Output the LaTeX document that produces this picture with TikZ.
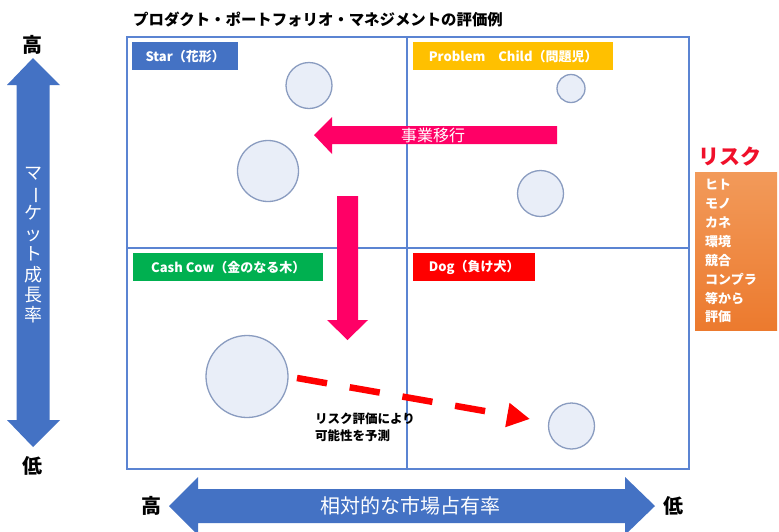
\documentclass[tikz,border=0pt]{standalone}
\usepackage{fontspec}
\setmainfont{Noto Sans CJK JP}
\usetikzlibrary{arrows.meta}
\definecolor{frameblue}{HTML}{5B84D2}
\definecolor{arrowblue}{HTML}{4472C4}
\definecolor{starblue}{HTML}{4472C4}
\definecolor{pcyellow}{HTML}{FFC000}
\definecolor{ccgreen}{HTML}{00B050}
\definecolor{dogred}{HTML}{FF0000}
\definecolor{pink}{HTML}{FF0066}
\definecolor{bubblefill}{HTML}{E9EEF8}
\definecolor{bubbleline}{HTML}{8A9CC0}
\definecolor{riskTop}{HTML}{F29A5A}
\definecolor{riskBot}{HTML}{EC7A2E}
\definecolor{riskred}{HTML}{F0102A}
\tikzset{
  framestyle/.style={draw=frameblue, line width=1.8pt},
  lbl/.style={text=white, inner sep=0pt, minimum height=28pt, font=\bfseries\fontsize{13}{14}\selectfont},
  bubble/.style={circle, draw=bubbleline, line width=1.3pt, fill=bubblefill, inner sep=0pt},
  bigmark/.style={font=\bfseries\fontsize{20}{22}\selectfont, inner sep=0pt},
  blockpink/.style={fill=pink},
  blockblue/.style={fill=arrowblue},
}
\begin{document}
\begin{tikzpicture}[x=1pt,y=-1pt]
\clip (0,0) rectangle (779,531);
\useasboundingbox (0,0) rectangle (779,531);
\fill[white] (0,0) rectangle (779,531);

% title
\node[anchor=west, inner sep=0pt, font=\bfseries\fontsize{15.4}{17}\selectfont] (title) at (133,20) {プロダクト・ポートフォリオ・マネジメントの評価例};

% frame
\draw[framestyle] (127,37) rectangle (689,469);
\draw[framestyle] (407,37) -- (407,469);
\draw[framestyle] (127,248) -- (689,248);

% quadrant labels
\node[lbl, fill=starblue, minimum width=106pt, anchor=north west] (star) at (132,42) {Star（花形）};
\node[lbl, fill=pcyellow, minimum width=200pt, anchor=north west] (pc) at (413,42) {Problem　Child（問題児）};
\node[lbl, fill=ccgreen, minimum width=190pt, anchor=north west] (cc) at (133,253) {Cash Cow（金のなる木）};
\node[lbl, fill=dogred, minimum width=122pt, anchor=north west] (dog) at (413,253) {Dog（負け犬）};

% bubbles
\node[bubble, minimum size=46pt] (s1) at (309,85.5) {};
\node[bubble, minimum size=61pt] (s2) at (268,171) {};
\node[bubble, minimum size=28pt] (p1) at (571,88.5) {};
\node[bubble, minimum size=46pt] (p2) at (540.5,193.5) {};
\node[bubble, minimum size=82pt] (c1) at (247,376.5) {};
\node[bubble, minimum size=46pt] (d1) at (571.5,426) {};

% pink horizontal arrow
\fill[blockpink] (314,135) -- (332,117) -- (332,126) -- (557,126) -- (557,144) -- (332,144) -- (332,154) -- cycle;
\node[text=white, inner sep=0pt, font=\fontsize{16}{18}\selectfont] (move) at (433,135) {事業移行};

% pink vertical arrow
\fill[blockpink] (337,196) -- (358,196) -- (358,320) -- (368,320) -- (347.5,340) -- (327,320) -- (337,320) -- cycle;

% dashed red arrow
\coordinate (dstart) at (297,378);
\coordinate (dend) at (530,419);
\draw[dogred, line width=6.5pt, dash pattern=on 30.5pt off 23pt, -{Triangle[length=23pt,width=23pt]}] (dstart) -- (dend);
\node[anchor=north west, inner sep=0pt, align=left, font=\bfseries\fontsize{12.5}{17}\selectfont] (note) at (315,413) {リスク評価により\\可能性を予測};

% left vertical double arrow
\fill[blockblue] (33,58) -- (60,85) -- (49.5,85) -- (49.5,420) -- (60,420) -- (33,447) -- (7,420) -- (16.5,420) -- (16.5,85) -- (7,85) -- cycle;
\node[text=white, inner sep=0pt, align=center, font=\fontsize{18}{20.4}\selectfont] (growth) at (33,245) {マ\\\rotatebox[origin=c]{-90}{ー}\\ケ\\ッ\\ト\\成\\長\\率};
\node[bigmark] (hi1) at (33,45) {高};
\node[bigmark] (lo1) at (33,466) {低};

% bottom horizontal double arrow
\fill[blockblue] (169,506) -- (198,477) -- (198,489) -- (625,489) -- (625,477) -- (655,506) -- (625,535) -- (625,523) -- (198,523) -- (198,535) -- cycle;
\node[text=white, inner sep=0pt, font=\fontsize{20}{22}\selectfont] (share) at (410,506) {相対的な市場占有率};
\node[bigmark] (hi2) at (151,506) {高};
\node[bigmark] (lo2) at (673,506) {低};

% risk
\node[text=riskred, inner sep=0pt, font=\bfseries\fontsize{21}{23}\selectfont] (risk) at (730,156) {リスク};
\shade[top color=riskTop, bottom color=riskBot] (695,172) rectangle (777,330);
\node[anchor=north west, inner sep=0pt, align=left, text=white, font=\bfseries\fontsize{13}{18.9}\selectfont] (risklist) at (705,179) {ヒト\\モノ\\カネ\\環境\\競合\\コンプラ\\等から\\評価};
\end{tikzpicture}
\end{document}
